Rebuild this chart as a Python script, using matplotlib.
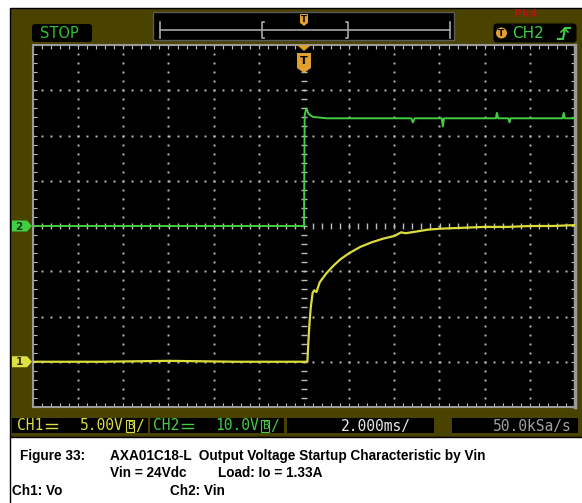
import numpy as np
import matplotlib
matplotlib.use("Agg")
import matplotlib.pyplot as plt
from matplotlib.patches import Rectangle, Polygon, FancyBboxPatch, Circle

# =========================
# DATA
# =========================
time_per_div = 2.0      # ms/div
ch1_scale = 5.0         # V/div
ch2_scale = 10.0        # V/div
ch1_offset_div = -3
ch2_offset_div = 0

# CH1: Vo (yellow)
ch1_time_ms = [-12.0, -9.0, -6.0, -3.0, -1.0, 0.15, 0.2, 0.25, 0.3, 0.38, 0.45, 0.55,
               0.7, 1.0, 1.3, 1.6, 2.0, 2.5, 3.0, 3.5, 4.0, 4.3, 4.5, 5.0, 5.5,
               6.0, 7.0, 8.0, 9.0, 10.0, 11.0, 12.0]
ch1_volts = [0.0, 0.0, 0.1, 0.0, 0.0, 0.0, 2.5, 4.5, 6.0, 7.6, 7.9, 7.7,
             8.8, 9.8, 10.6, 11.3, 12.0, 12.7, 13.2, 13.6, 13.9, 14.3, 14.2, 14.4, 14.6,
             14.7, 14.8, 14.9, 14.9, 15.0, 15.0, 15.1]

# CH2: Vin (green)
ch2_time_ms = [-12.0, -6.0, 0.0, 0.03, 0.1, 0.2, 0.4, 1.0, 2.5, 3.8, 4.75, 4.82, 4.9,
               6.1, 6.15, 6.2, 8.5, 8.54, 8.6, 9.05, 9.1, 9.15, 11.45, 11.5, 11.55, 12.0]
ch2_volts = [0.0, 0.0, 0.0, 24.5, 26.0, 24.8, 24.1, 23.8, 23.8, 23.8, 23.8, 22.9, 23.8,
             23.8, 22.0, 23.8, 23.8, 25.0, 23.8, 23.8, 22.9, 23.8, 23.8, 25.0, 23.8, 23.8]

status_texts = ["CH1", "5.00V", "CH2", "10.0V", "2.000ms/", "50.0kSa/s"]
caption_title = "Figure 33:"
caption_line1 = "AXA01C18-L  Output Voltage Startup Characteristic by Vin"
caption_vin = "Vin = 24Vdc"
caption_load = "Load: Io = 1.33A"
caption_ch1 = "Ch1: Vo"
caption_ch2 = "Ch2: Vin"

olive = "#4a4300"
green = "#44cc44"
yellow = "#dcdc3c"
orange = "#e0a030"
gridc = "#bdbdbd"

fig = plt.figure(figsize=(5.82, 5.03), dpi=100)
fig.patch.set_facecolor("white")

# background (pixel coords)
bg = fig.add_axes([0, 0, 1, 1], zorder=0)
bg.set_xlim(0, 582)
bg.set_ylim(503, 0)
bg.axis("off")
bg.add_patch(Rectangle((10, 8), 580, 429, fc=olive, ec="black", lw=1))
bg.add_patch(Rectangle((10, 437), 580, 70, fc="white", ec="black", lw=1))

# =========================
# SCOPE SCREEN
# =========================
ax = fig.add_axes([33 / 582, (503 - 407) / 503, 542 / 582, 362 / 503], zorder=1)
ax.set_facecolor("black")
ax.set_xlim(-6 * time_per_div, 6 * time_per_div)
ax.set_ylim(-4, 4)

for k in range(-5, 6):
    if k == 0:
        continue
    ys = np.arange(-4, 4.01, 0.2)
    ax.plot(np.full_like(ys, k * time_per_div), ys, ls="none", marker="s", ms=1.4,
            mec="none", color=gridc)
for k in range(-3, 4):
    if k == 0:
        continue
    xs = np.arange(-12, 12.01, 0.4)
    ax.plot(xs, np.full_like(xs, k), ls="none", marker="s", ms=1.4, mec="none", color=gridc)

# center cross with ticks
xs = np.arange(-12, 12.01, 0.4)
ax.plot(xs, np.zeros_like(xs), ls="none", marker="|", ms=4.5, mew=1.0, color=gridc)
ys = np.arange(-4, 4.01, 0.2)
ax.plot(np.zeros_like(ys), ys, ls="none", marker="_", ms=4.5, mew=1.0, color=gridc)

ax.set_xticks(np.arange(-12, 12.01, 2))
ax.set_xticks(np.arange(-12, 12.01, 0.4), minor=True)
ax.set_yticks(np.arange(-4, 4.01, 1))
ax.set_yticks(np.arange(-4, 4.01, 0.2), minor=True)
ax.tick_params(which="both", direction="in", length=3, width=0.8, color=gridc,
               top=True, right=True, labelbottom=False, labelleft=False)
for s in ax.spines.values():
    s.set_color("#9a9a9a")
    s.set_linewidth(1.5)
ax.spines["right"].set_linewidth(2.5)

ax.plot(ch2_time_ms, np.array(ch2_volts) / ch2_scale + ch2_offset_div,
        color=green, lw=1.4, zorder=5)
ax.plot(ch1_time_ms, np.array(ch1_volts) / ch1_scale + ch1_offset_div,
        color=yellow, lw=1.6, zorder=5)

# =========================
# OVERLAY DECORATIONS
# =========================
ov = fig.add_axes([0, 0, 1, 1], zorder=2)
ov.set_xlim(0, 582)
ov.set_ylim(503, 0)
ov.axis("off")
ov.patch.set_alpha(0)

# STOP
ov.add_patch(FancyBboxPatch((33, 25), 58, 16, boxstyle="round,pad=1,rounding_size=3",
                            fc="black", ec="none"))
ov.text(40, 33.5, "STOP", color="#30c030", fontsize=10.5, va="center", ha="left")

# memory bar
ov.add_patch(Rectangle((153, 12), 301, 28, fc="black", ec="#5a5a5a", lw=1))
ov.plot([160, 450], [30, 30], color="#a8a8a8", lw=1.2)
ov.plot([160, 160], [22, 38], color="#a8a8a8", lw=1.2)
ov.plot([450, 450], [22, 38], color="#a8a8a8", lw=1.2)
ov.plot([264, 262, 262, 264], [22, 22, 38, 38], color="#a8a8a8", lw=1.2)
ov.plot([346, 348, 348, 346], [22, 22, 38, 38], color="#a8a8a8", lw=1.2)
ov.add_patch(Polygon([(300, 14), (308, 14), (308, 23), (304, 26), (300, 23)],
                     fc=orange, ec="none"))
ov.text(304, 19, "T", color="black", fontsize=6, fontweight="bold", ha="center", va="center")

# trigger info
ov.text(514, 14, "Pk4", color="#a81818", fontsize=8, fontweight="bold", va="center")
ov.add_patch(FancyBboxPatch((495, 25), 80, 16, boxstyle="round,pad=1.5,rounding_size=3",
                            fc="black", ec="none"))
ov.add_patch(Circle((501.5, 33), 5.5, fc=orange, ec="none"))
ov.text(501.5, 33.5, "T", color="black", fontsize=6.5, fontweight="bold", ha="center", va="center")
ov.text(512, 33.5, "CH2", color=green, fontsize=11, va="center")
ov.plot([558, 563, 565, 570], [39, 39, 28, 28], color=green, lw=1.5)
ov.plot([561, 564.5, 568], [32, 28.5, 32], color=green, lw=1.2)

# trigger position marker
ov.add_patch(Polygon([(297, 45), (311, 45), (304, 51)], fc=orange, ec="none"))
ov.add_patch(Polygon([(297, 53), (311, 53), (311, 68), (304, 73), (297, 68)],
                     fc=orange, ec="none"))
ov.text(304, 61, "T", color="black", fontsize=8, fontweight="bold", ha="center", va="center")

# channel markers
y2 = 407 - (4 + ch2_offset_div) * 45.25
y1 = 407 - (4 + ch1_offset_div) * 45.25
ov.add_patch(Polygon([(12, y2 - 5.5), (27, y2 - 5.5), (32, y2), (27, y2 + 5.5), (12, y2 + 5.5)],
                     fc="#3fcf3f", ec="none"))
ov.text(19, y2 + 0.5, "2", color="#143014", fontsize=7.5, fontweight="bold", ha="center", va="center")
ov.add_patch(Polygon([(12, y1 - 5.5), (27, y1 - 5.5), (32, y1), (27, y1 + 5.5), (12, y1 + 5.5)],
                     fc="#e0e040", ec="none"))
ov.text(19, y1 + 0.5, "1", color="#303010", fontsize=7.5, fontweight="bold", ha="center", va="center")

# status bar
mono = ["DejaVu Sans Mono", "DejaVu Sans"]
for x0, w in [(12, 136), (150, 134), (287, 147), (452, 126)]:
    ov.add_patch(Rectangle((x0, 418), w, 15, fc="black", ec="none"))


def dc_symbol(x, color):
    # DC coupling sign: solid bar over a dashed bar
    ov.plot([x, x + 11], [423.5, 423.5], color=color, lw=1.0)
    for dx in (0, 4, 8):
        ov.plot([x + dx, x + dx + 2.5], [427.5, 427.5], color=color, lw=1.0)


ov.text(17, 426, status_texts[0], color=yellow, fontsize=10.5, family=mono, va="center")
dc_symbol(46, yellow)
ov.text(124, 426, status_texts[1], color=yellow, fontsize=10.5, family=mono, va="center", ha="right")
ov.text(127, 426, "B", color=yellow, fontsize=8, family=mono, va="center",
        bbox=dict(boxstyle="square,pad=0.05", fc="none", ec=yellow, lw=0.8))
ov.text(135, 426, "/", color=yellow, fontsize=10.5, family=mono, va="center")
ov.text(153, 426, status_texts[2], color=green, fontsize=10.5, family=mono, va="center")
dc_symbol(182, green)
ov.text(259, 426, status_texts[3], color=green, fontsize=10.5, family=mono, va="center", ha="right")
ov.text(262, 426, "B", color=green, fontsize=8, family=mono, va="center",
        bbox=dict(boxstyle="square,pad=0.05", fc="none", ec=green, lw=0.8))
ov.text(270, 426, "/", color=green, fontsize=10.5, family=mono, va="center")
ov.text(376, 426, status_texts[4], color="#e8e8e8", fontsize=10.5, family=mono, va="center", ha="center")
ov.text(572, 426, status_texts[5], color="#a0a0a0", fontsize=10.5, family=mono, va="center", ha="right")

# caption
cap = ["Liberation Sans Narrow", "Liberation Sans", "DejaVu Sans"]
ov.text(20, 456, caption_title, fontsize=9.8, fontweight="bold", family=cap, va="center")
ov.text(110, 456, caption_line1, fontsize=9.8, fontweight="bold", family=cap, va="center")
ov.text(110, 473, caption_vin, fontsize=9.8, fontweight="bold", family=cap, va="center")
ov.text(218, 473, caption_load, fontsize=9.8, fontweight="bold", family=cap, va="center")
ov.text(12, 491, caption_ch1, fontsize=9.8, fontweight="bold", family=cap, va="center")
ov.text(170, 491, caption_ch2, fontsize=9.8, fontweight="bold", family=cap, va="center")

fig.savefig("out.png", dpi=100, facecolor="white")
print("saved")
